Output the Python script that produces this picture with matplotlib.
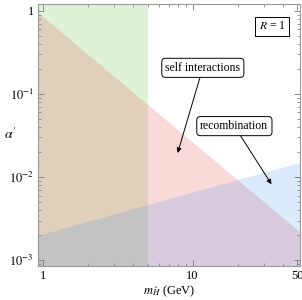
import matplotlib
matplotlib.use("Agg")
import matplotlib.pyplot as plt
from matplotlib.ticker import FixedLocator, NullFormatter

plt.rcParams['font.family'] = ['Liberation Serif', 'DejaVu Serif']
plt.rcParams['mathtext.fontset'] = 'stix'

# mass range (GeV) and boundaries of the regions
m_range = [0.93, 52]
alpha_self = [0.946, 0.00219]     # self interactions bound
alpha_recomb = [0.0020, 0.0151]   # recombination bound
m_cut = 5.0                        # vertical bound (green region)
y_range = [8.5e-4, 1.21]

x_ticks = [1, 10, 50]
x_ticklabels = ["1", "10", "50"]
x_minor = [2, 3, 4, 5, 6, 7, 8, 9, 20, 30, 40]
y_ticks = [1e-3, 1e-2, 1e-1, 1]
y_ticklabels = [r"$10^{-3}$", r"$10^{-2}$", r"$10^{-1}$", "1"]

fig = plt.figure(figsize=(3.02, 3.0), dpi=100)
ax = fig.add_axes([0.126, 0.113, 0.867, 0.874])

ax.axvspan(m_range[0], m_cut, color=(0.39, 0.75, 0.24), alpha=0.2, lw=0)
ax.fill_between(m_range, y_range[0] / 10, alpha_self,
                color=(0.9, 0.27, 0.27), alpha=0.2, lw=0)
ax.fill_between(m_range, y_range[0] / 10, alpha_recomb,
                color=(0.31, 0.59, 0.94), alpha=0.2, lw=0)

ax.set_xscale('log')
ax.set_yscale('log')
ax.set_xlim(m_range)
ax.set_ylim(y_range)

ax.xaxis.set_major_locator(FixedLocator(x_ticks))
ax.set_xticklabels(x_ticklabels)
ax.xaxis.set_minor_locator(FixedLocator(x_minor))
ax.xaxis.set_minor_formatter(NullFormatter())
ax.yaxis.set_major_locator(FixedLocator(y_ticks))
ax.set_yticklabels(y_ticklabels)

ax.tick_params(which='both', direction='in', top=True, right=True,
               color='#888888', labelsize=9, pad=3)
ax.tick_params(which='major', length=4, width=0.7)
ax.tick_params(which='minor', length=2.2, width=0.6)
for s in ax.spines.values():
    s.set_color('#999999')
    s.set_linewidth(0.8)

ax.set_xlabel(r"$m_{\hat{H}}$ (GeV)", fontsize=9, labelpad=1)
ax.set_ylabel(r"$\alpha'$", fontsize=10, rotation=0)
ax.yaxis.set_label_coords(-0.105, 0.475)

box_round = dict(boxstyle='round,pad=0.3,rounding_size=0.3', fc='white', ec='black', lw=0.7)
ax.annotate("self interactions", xy=(7.95, 0.0195), xytext=(11.7, 0.206),
            fontsize=8.5, ha='center', va='center', bbox=box_round,
            arrowprops=dict(arrowstyle='-|>', color='black', lw=0.7,
                            mutation_scale=7, shrinkA=0, shrinkB=0))
ax.annotate("recombination", xy=(33.6, 0.0082), xytext=(19, 0.041),
            fontsize=8.5, ha='center', va='center', bbox=box_round,
            arrowprops=dict(arrowstyle='-|>', color='black', lw=0.7,
                            mutation_scale=7, shrinkA=0, shrinkB=0))
ax.text(0.895, 0.915, r"$R$ = 1", transform=ax.transAxes, fontsize=8.5,
        ha='center', va='center',
        bbox=dict(boxstyle='square,pad=0.3', fc='white', ec='black', lw=0.7))

fig.savefig("out.png", dpi=100)
